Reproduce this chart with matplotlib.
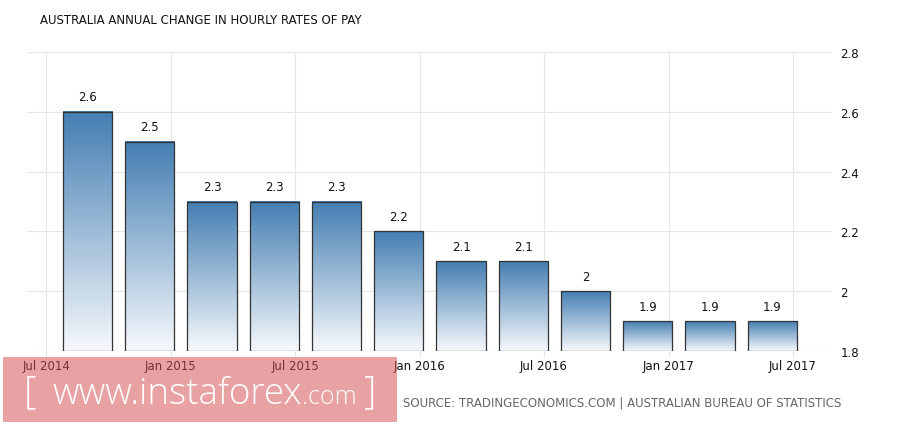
import numpy as np
import pandas as pd
import matplotlib
matplotlib.use("Agg")
import matplotlib.pyplot as plt
from matplotlib.patches import Rectangle

# data
quarters = ["2014-09", "2014-12", "2015-03", "2015-06", "2015-09", "2015-12",
            "2016-03", "2016-06", "2016-09", "2016-12", "2017-03", "2017-06"]
values = [2.6, 2.5, 2.3, 2.3, 2.3, 2.2, 2.1, 2.1, 2.0, 1.9, 1.9, 1.9]
tick_dates = ["2014-07", "2015-01", "2015-07", "2016-01", "2016-07", "2017-01", "2017-07"]
tick_labels = ["Jul 2014", "Jan 2015", "Jul 2015", "Jan 2016", "Jul 2016", "Jan 2017", "Jul 2017"]
y_ticks = [1.8, 2.0, 2.2, 2.4, 2.6, 2.8]
y_labels = ["1.8", "2", "2.2", "2.4", "2.6", "2.8"]

title = "AUSTRALIA ANNUAL CHANGE IN HOURLY RATES OF PAY"
source = "SOURCE: TRADINGECONOMICS.COM | AUSTRALIAN BUREAU OF STATISTICS"


def month_index(s):
    p = pd.Period(s, freq="M")
    return (p - pd.Period("2014-07", freq="M")).n


def main():
    W, H = 914, 427
    fig = plt.figure(figsize=(W / 100, H / 100), dpi=100)
    ax = fig.add_axes([27 / W, 75 / H, (832 - 27) / W, (352 - 53) / H])

    xs = [month_index(q) for q in quarters]
    ticks = [month_index(t) for t in tick_dates]
    ymin = 1.8
    width = 2.37

    # gradient for each bar
    top_c = np.array([68, 126, 178]) / 255
    bot_c = np.array([246, 249, 252]) / 255
    t = np.linspace(0, 1, 256)[:, None]
    grad = (bot_c * (1 - t) + top_c * t)[:, None, :]
    for x, v in zip(xs, values):
        ax.imshow(grad, extent=[x - width / 2, x + width / 2, ymin, v],
                  origin="lower", aspect="auto", zorder=2, interpolation="bilinear")
    ax.bar(xs, [v - ymin for v in values], bottom=ymin, width=width,
           fill=False, edgecolor="#333333", linewidth=0.9, zorder=3)
    for x, v in zip(xs, values):
        ax.text(x, v + 0.028, f"{v:g}", ha="center", va="bottom",
                fontsize=8.5, color="#111111", zorder=4)

    ax.set_xlim(-0.92, 37.88)
    ax.set_ylim(1.8, 2.8)
    ax.set_xticks(ticks)
    ax.set_xticklabels(tick_labels)
    ax.yaxis.tick_right()
    ax.set_yticks(y_ticks)
    ax.set_yticklabels(y_labels)
    ax.tick_params(axis="x", length=4, color="#e4e4e4", labelsize=8.5,
                   labelcolor="#111111", pad=2)
    ax.tick_params(axis="y", length=0, labelsize=8.5, labelcolor="#111111", pad=6)
    ax.grid(True, color="#e6e6e6", linewidth=0.8, zorder=0)
    ax.set_axisbelow(True)
    for s in ax.spines.values():
        s.set_visible(False)

    fig.text(40 / W, 1 - 20 / H, title, ha="left", va="center",
             fontsize=8.5, color="#111111")
    fig.text(403 / W, 1 - 403 / H, source, ha="left", va="center",
             fontsize=8.5, color="#666666")

    # watermark
    fig.patches.append(Rectangle((3 / W, 1 - 423 / H), 394 / W, 65 / H,
                                 transform=fig.transFigure, facecolor=(212 / 255, 78 / 255, 82 / 255),
                                 alpha=0.52, edgecolor="none", zorder=10))
    wm = dict(color="white", va="baseline", fontweight="light", family="Open Sans", zorder=11)
    base = 1 - 404 / H
    fig.text(24 / W, base + 1 / H, "[", fontsize=28, ha="left", **wm)
    www = fig.text(52 / W, base, "www.instaforex", fontsize=26.5, ha="left", **wm)
    fig.canvas.draw()
    x_end = www.get_window_extent().x1
    fig.text(x_end / W, base, ".com", fontsize=18, ha="left", **wm)
    fig.text(364 / W, base + 1 / H, "]", fontsize=28, ha="left", **wm)

    fig.savefig("out.png", dpi=100)


if __name__ == "__main__":
    main()
